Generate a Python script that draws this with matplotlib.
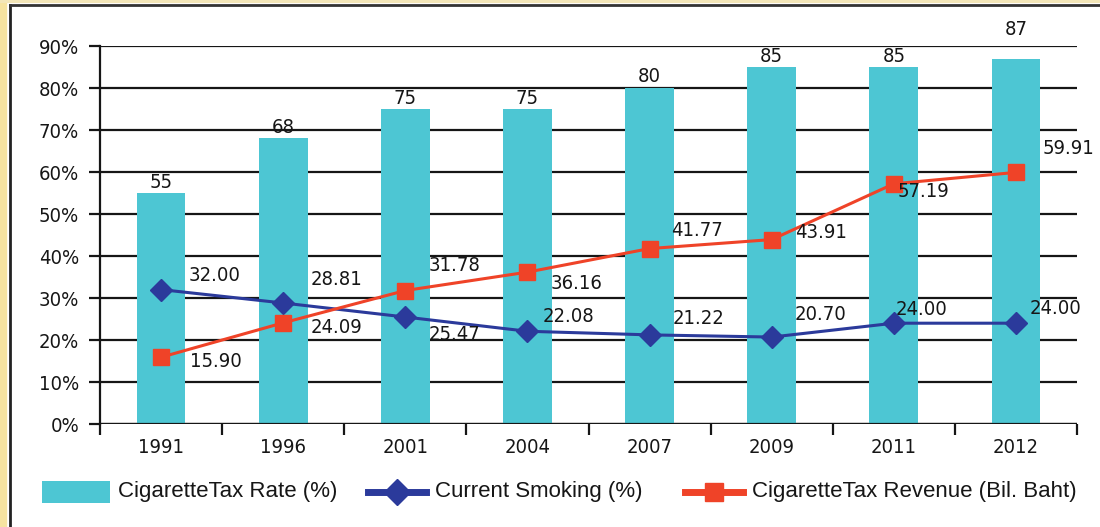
import matplotlib
matplotlib.use("Agg")
import matplotlib.pyplot as plt
from matplotlib.lines import Line2D
from matplotlib.patches import Rectangle
from matplotlib.font_manager import FontProperties
import numpy as np

years = ["1991", "1996", "2001", "2004", "2007", "2009", "2011", "2012"]
tax_rate = [55, 68, 75, 75, 80, 85, 85, 87]
smoking = [32.00, 28.81, 25.47, 22.08, 21.22, 20.70, 24.00, 24.00]
revenue = [15.90, 24.09, 31.78, 36.16, 41.77, 43.91, 57.19, 59.91]
yticks = [0, 10, 20, 30, 40, 50, 60, 70, 80, 90]
legend_labels = ["CigaretteTax Rate (%)", "Current Smoking (%)", "CigaretteTax Revenue (Bil. Baht)"]

# label offsets in pixels (dx, dy up)
bar_off = [11, 11, 11, 11, 11, 11, 11, 29]
smk_off = [(53, 14), (53, 23), (49, -17), (41, 15), (49, 16), (49, 23), (28, 14), (40, 15)]
rev_off = [(55, -4), (53, -5), (49, 25), (49, -11), (47, 18), (49, 7), (30, -8), (52, 24)]

BAR = "#4DC6D3"
BLUE = "#2B3A9B"
RED = "#EF4328"
TXT = "#161616"
NARROW = FontProperties(family="DejaVu Sans", stretch="condensed", size=14.5)
REG = FontProperties(family=["Liberation Sans", "DejaVu Sans"], size=16)

fig = plt.figure(figsize=(11, 5.27), dpi=100)
ax = fig.add_axes([100/1100, 1-424/527, 977/1100, 378/527])

x = np.arange(len(years))
ax.set_axisbelow(True)
ax.bar(x, tax_rate, width=0.4, color=BAR, zorder=2)
ax.plot(x, smoking, color=BLUE, lw=2.2, marker="D", ms=11, zorder=4)
ax.plot(x, revenue, color=RED, lw=2.2, marker="s", ms=12, zorder=4)

ax.set_xlim(-0.5, len(years) - 0.5)
ax.set_ylim(0, 90)
ax.set_yticks(yticks)
ax.set_yticklabels([f"{v}%" for v in yticks], fontproperties=NARROW, color=TXT)
ax.yaxis.grid(True, color=TXT, lw=1.6, zorder=0)
ax.set_xticks(x)
ax.set_xticklabels(years, fontproperties=NARROW, color=TXT)
ax.set_xticks(np.arange(len(years) + 1) - 0.5, minor=True)
ax.tick_params(axis="x", which="major", length=0, pad=10)
ax.tick_params(axis="x", which="minor", length=8, width=1.6, color=TXT, direction="out")
ax.tick_params(axis="y", length=8, width=1.6, color=TXT, direction="out", pad=7)
for s in ["top", "right", "bottom"]:
    ax.spines[s].set_visible(False)
ax.spines["left"].set_linewidth(1.6)
ax.spines["left"].set_color(TXT)
ax.axhline(0, color=TXT, lw=1.6, zorder=3)
for xi, v, o in zip(x, tax_rate, bar_off):
    ax.annotate(f"{v}", (xi, v), xytext=(0, o), textcoords="offset pixels",
                ha="center", va="center", fontproperties=NARROW, color=TXT, zorder=5)
for xi, v, (dx, dy) in zip(x, smoking, smk_off):
    ax.annotate(f"{v:.2f}", (xi, v), xytext=(dx, dy), textcoords="offset pixels",
                ha="center", va="center", fontproperties=NARROW, color=TXT, zorder=5)
for xi, v, (dx, dy) in zip(x, revenue, rev_off):
    ax.annotate(f"{v:.2f}", (xi, v), xytext=(dx, dy), textcoords="offset pixels",
                ha="center", va="center", fontproperties=NARROW, color=TXT, zorder=5)

# manual legend (figure pixel coordinates)
W, H = 1100, 527
ly = 1 - 492/H
fig.add_artist(Rectangle((42/W, 1-503/H), 68/W, 22/H, facecolor=BAR, edgecolor="none",
                         transform=fig.transFigure))
fig.text(118/W, ly, legend_labels[0], fontproperties=REG, color=TXT, va="center", ha="left")
fig.add_artist(Line2D([368/W, 426/W], [ly, ly], color=BLUE, lw=5, transform=fig.transFigure))
fig.add_artist(Line2D([397/W], [ly], color=BLUE, marker="D", ms=13, transform=fig.transFigure))
fig.text(435/W, ly, legend_labels[1], fontproperties=REG, color=TXT, va="center", ha="left")
fig.add_artist(Line2D([685/W, 743/W], [ly, ly], color=RED, lw=5, transform=fig.transFigure))
fig.add_artist(Line2D([714/W], [ly], color=RED, marker="s", ms=13, transform=fig.transFigure))
fig.text(752/W, ly, legend_labels[2], fontproperties=REG, color=TXT, va="center", ha="left")

# frame
fig.add_artist(Line2D([3/W, 3/W], [0, 1], color="#F6E3A0", lw=6, transform=fig.transFigure))
fig.add_artist(Line2D([0, 1], [1-1/H, 1-1/H], color="#F3E6B8", lw=3, transform=fig.transFigure))
fig.add_artist(Line2D([10/W, 10/W], [0, 1-5/H], color="#222222", lw=2, transform=fig.transFigure))
fig.add_artist(Line2D([10/W, 1], [1-5/H, 1-5/H], color="#333333", lw=2, transform=fig.transFigure))

fig.savefig("out.png", dpi=100)
